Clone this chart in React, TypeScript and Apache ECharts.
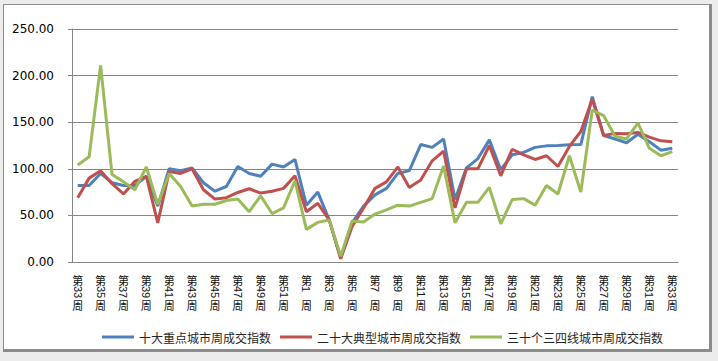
import React, { useEffect, useRef } from "react";
import * as echarts from "echarts";

const weeksA = [33, 34, 35, 36, 37, 38, 39, 40, 41, 42, 43, 44, 45, 46, 47, 48, 49, 50, 51, 52];
const weeksB = [1, 2, 3, 4, 5, 6, 7, 8, 9, 10, 11, 12, 13, 14, 15, 16, 17, 18, 19, 20, 21, 22, 23, 24, 25, 26, 27, 28, 29, 30, 31, 32, 33];
const categories = [...weeksA, ...weeksB].map((w) => `第${w}周`);

const seriesNames = ["十大重点城市周成交指数", "二十大典型城市周成交指数", "三十个三四线城市周成交指数"];

const top10 = [
  82, 82, 95, 85, 82, 82, 92, 60, 100, 98, 101, 85, 76, 81, 102.5, 95, 92, 105, 102, 110,
  61, 75, 45, 4, 42, 60, 72, 79, 95, 98, 126, 123, 132, 67, 101, 111, 131, 99, 115, 117.5,
  123, 124.6, 125, 125.7, 126, 177.5, 135.7, 132, 128, 137, 129, 120, 122,
];
const top20 = [
  69, 90, 98, 84, 73, 86.5, 92, 42, 97, 95, 100, 77.5, 67.5, 69, 74.6, 78.6, 74, 76, 79, 92.5,
  54, 63, 45, 3.5, 38, 58, 79, 86, 102, 80, 88, 108.6, 119, 58, 100, 100, 125, 92.5, 121, 115,
  110, 114, 102.5, 124, 140, 174.6, 135.7, 138, 137.5, 139, 134, 130, 129,
];
const tier34 = [
  104, 113, 211, 94, 86, 77.5, 102, 62, 95, 81, 60, 62, 62, 66, 67.5, 54, 71, 52, 58, 87,
  35, 42.5, 45, 6, 44, 43, 51.4, 56, 61, 60, 64, 68, 103, 42, 64, 64, 80, 41, 67, 68,
  61, 82, 73, 114, 75, 163, 157, 135, 132, 149, 122, 114, 118.5,
];

const colors = ["#4F81BD", "#C0504D", "#9BBB59"];
const AXIS = "#868686";

export default function App() {
  const ref = useRef<HTMLDivElement>(null);
  useEffect(() => {
    if (!ref.current) return;
    const chart = echarts.init(ref.current, undefined, { renderer: "svg" });
    const values = [top10, top20, tier34];
    chart.setOption({
      animation: false,
      grid: { left: 72, right: 40, top: 29, bottom: 99, containLabel: false },
      legend: {
        left: 97,
        top: 326,
        icon: "rect",
        itemWidth: 32,
        itemHeight: 3,
        itemGap: 9,
        textStyle: { fontSize: 12, color: "#262626", fontFamily: "Noto Sans CJK SC" },
        data: seriesNames,
      },
      xAxis: [
        {
          type: "category",
          data: categories,
          boundaryGap: true,
          axisLine: { lineStyle: { color: AXIS, width: 1 } },
          axisTick: { interval: 2, length: 5, lineStyle: { color: AXIS } },
          axisLabel: {
            interval: 1,
            margin: 12,
            fontSize: 11,
            lineHeight: 12.4,
            color: "#111",
            fontFamily: "Noto Sans CJK SC",
            formatter: (v: string) => v.replace(/\d+/, " ").split("").join("\n"),
          },
          splitLine: { show: false },
        },
        {
          type: "category",
          data: categories,
          position: "bottom",
          boundaryGap: true,
          axisLine: { show: false },
          axisTick: { show: false },
          axisLabel: {
            interval: 1,
            rotate: -90,
            margin: 24,
            fontSize: 11,
            color: "#111",
            fontFamily: "Liberation Sans",
            formatter: (v: string) => (v.match(/\d+/) || [""])[0],
          },
          splitLine: { show: false },
        },
      ],
      yAxis: {
        type: "value",
        min: 0,
        max: 250,
        interval: 50,
        axisLine: { show: true, lineStyle: { color: AXIS } },
        axisTick: { show: true, length: 4, lineStyle: { color: AXIS } },
        axisLabel: {
          margin: 18,
          fontSize: 12,
          color: "#000",
          fontFamily: "DejaVu Sans",
          formatter: (v: number) => v.toFixed(2),
        },
        splitLine: { show: true, lineStyle: { color: AXIS, width: 1 } },
      },
      series: seriesNames.map((name, i) => ({
        name,
        type: "line",
        xAxisIndex: 0,
        data: values[i],
        symbol: "none",
        showSymbol: false,
        lineStyle: { width: 3, color: colors[i] },
        itemStyle: { color: colors[i] },
        z: 2 + i,
      })),
    });
    return () => chart.dispose();
  }, []);

  return (
    <div style={{ position: "absolute", left: 0, top: 0, width: 718, height: 361, background: "#ececec" }}>
      <div
        style={{
          position: "absolute",
          left: 3,
          top: 4,
          width: 705,
          height: 344,
          background: "#fff",
          borderStyle: "solid",
          borderColor: "#8c8c8c",
          borderWidth: "1px 3px 3px 1px",
        }}
      />
      <div ref={ref} style={{ position: "absolute", left: 0, top: 0, width: 718, height: 361 }} />
    </div>
  );
}
